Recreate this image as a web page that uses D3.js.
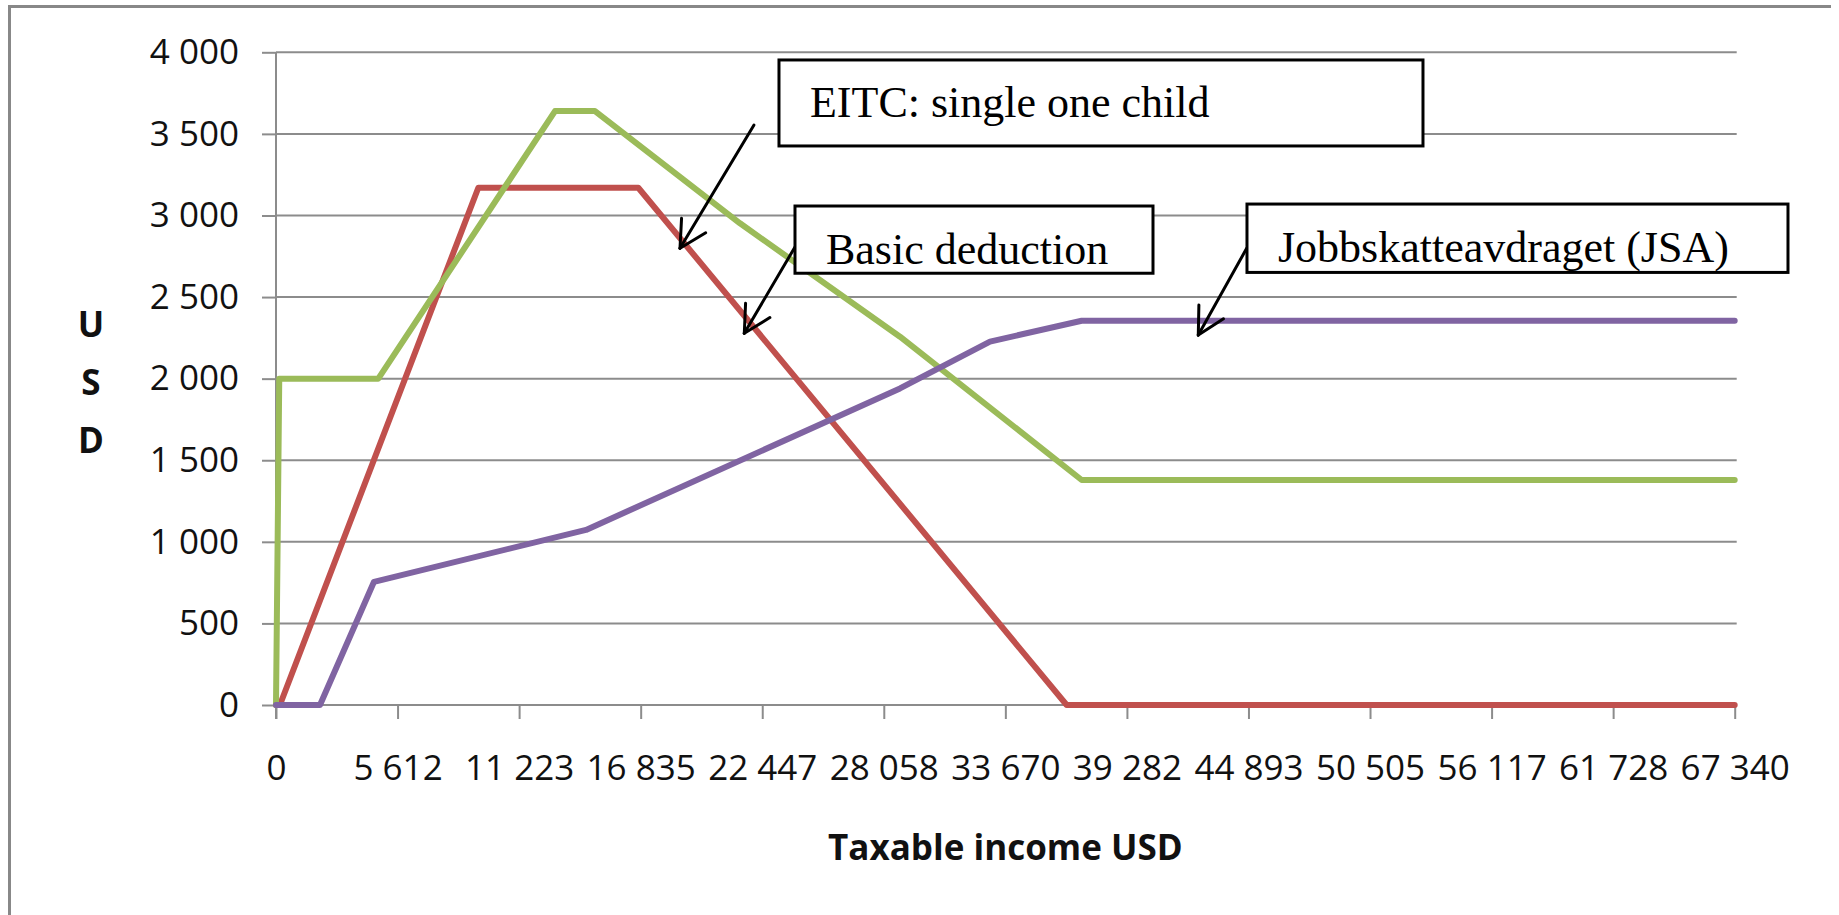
<!DOCTYPE html>
<html>
<head>
<meta charset="utf-8">
<script src="https://cdn.jsdelivr.net/npm/d3@7"></script>
<style>
  html, body { margin: 0; padding: 0; background: #ffffff; }
  svg { display: block; }
</style>
</head>
<body>
<svg id="chart" width="1839" height="915"></svg>
<script>
// ---------------- DATA ----------------
const xTickValues = [0, 5612, 11223, 16835, 22447, 28058, 33670, 39282, 44893, 50505, 56117, 61728, 67340];
const xTickLabels = ["0", "5 612", "11 223", "16 835", "22 447", "28 058", "33 670", "39 282", "44 893", "50 505", "56 117", "61 728", "67 340"];
const yTickValues = [0, 500, 1000, 1500, 2000, 2500, 3000, 3500, 4000];
const yTickLabels = ["0", "500", "1 000", "1 500", "2 000", "2 500", "3 000", "3 500", "4 000"];

// EITC: single one child (red)
const eitcIncome = [0, 180, 9340, 16725, 36500, 67340];
const eitcUSD    = [0, 0, 3170, 3170, 0, 0];

// Basic deduction (green)
const basicIncome = [0, 150, 4723, 12880, 14726, 21420, 28806, 37194, 67340];
const basicUSD    = [0, 2000, 2000, 3640, 3640, 2952, 2257, 1379, 1379];

// Jobbskatteavdraget (JSA) (purple)
const jsaIncome = [0, 2031, 4524, 14311, 28806, 32961, 37194, 67340];
const jsaUSD    = [0, 0, 755, 1073, 1940, 2227, 2355, 2355];

// Annotation texts
const noteTexts = ["EITC: single one child", "Basic deduction", "Jobbskatteavdraget (JSA)"];

// ---------------- LAYOUT ----------------
const svg = d3.select("#chart");
const plot = { left: 276, right: 1734.7, top: 52.3, bottom: 705 };
const x = d3.scaleLinear().domain([0, 67340]).range([plot.left, plot.right]);
const y = d3.scaleLinear().domain([0, 4000]).range([plot.bottom, plot.top]);

const sansFont = "'Open Sans', 'Liberation Sans', sans-serif";
const serifFont = "'Liberation Serif', 'Times New Roman', serif";
const gridColor = "#8c8c8c";

// Outer frame (top and left edges visible)
svg.append("line")
  .attr("x1", 9.5).attr("x2", 1831).attr("y1", 6.5).attr("y2", 6.5)
  .attr("stroke", "#888888").attr("stroke-width", 3);
svg.append("line")
  .attr("x1", 9.5).attr("x2", 9.5).attr("y1", 5).attr("y2", 915)
  .attr("stroke", "#888888").attr("stroke-width", 3);

// Horizontal gridlines
svg.append("g").attr("class", "grid")
  .selectAll("line").data(yTickValues).join("line")
  .attr("x1", plot.left).attr("x2", plot.right + 2)
  .attr("y1", d => y(d)).attr("y2", d => y(d))
  .attr("stroke", gridColor).attr("stroke-width", 2);

// Y axis (ticks + labels)
const yAxis = d3.axisLeft(y)
  .tickValues(yTickValues)
  .tickFormat((d, i) => yTickLabels[i])
  .tickSize(14).tickSizeOuter(0).tickPadding(23);
const gy = svg.append("g").attr("transform", `translate(${plot.left},0)`).call(yAxis);
gy.select(".domain").remove();
gy.selectAll(".tick line").attr("stroke", gridColor).attr("stroke-width", 2);
gy.selectAll(".tick text")
  .attr("font-family", sansFont).attr("font-size", 35).attr("fill", "#111");

// X axis (ticks + labels)
const xAxis = d3.axisBottom(x)
  .tickValues(xTickValues)
  .tickFormat((d, i) => xTickLabels[i])
  .tickSize(14).tickSizeOuter(0).tickPadding(36);
const gx = svg.append("g").attr("transform", `translate(0,${plot.bottom})`).call(xAxis);
gx.select(".domain").remove();
gx.selectAll(".tick line").attr("stroke", gridColor).attr("stroke-width", 2);
gx.selectAll(".tick text")
  .attr("font-family", sansFont).attr("font-size", 35).attr("fill", "#111");

// Vertical axis line
svg.append("line")
  .attr("x1", plot.left).attr("x2", plot.left)
  .attr("y1", plot.top).attr("y2", plot.bottom + 14)
  .attr("stroke", gridColor).attr("stroke-width", 2);

// Axis titles
svg.append("text")
  .attr("x", (plot.left + plot.right) / 2).attr("y", 860)
  .attr("text-anchor", "middle")
  .attr("font-family", sansFont).attr("font-size", 35).attr("font-weight", "bold")
  .attr("fill", "#111")
  .text("Taxable income USD");

const yTitle = ["U", "S", "D"];
svg.append("g").selectAll("text").data(yTitle).join("text")
  .attr("x", 91).attr("y", (d, i) => 336.7 + i * 58.3)
  .attr("text-anchor", "middle")
  .attr("font-family", sansFont).attr("font-size", 35).attr("font-weight", "bold")
  .attr("fill", "#111")
  .text(d => d);

// ---------------- SERIES ----------------
const line = d3.line().x(d => x(d[0])).y(d => y(d[1]));
const series = [
  { inc: eitcIncome, val: eitcUSD, color: "#C0504D" },
  { inc: basicIncome, val: basicUSD, color: "#9BBB59" },
  { inc: jsaIncome, val: jsaUSD, color: "#8064A2" }
];
svg.append("g").selectAll("path").data(series).join("path")
  .attr("d", s => line(d3.zip(s.inc, s.val)))
  .attr("fill", "none")
  .attr("stroke", s => s.color)
  .attr("stroke-width", 6)
  .attr("stroke-linejoin", "round")
  .attr("stroke-linecap", "round");

// ---------------- ANNOTATIONS ----------------
// arrows: tail and tip in data units (income, USD)
const arrows = [
  { tail: [22066, 3554], tip: [18650, 2799] },
  { tail: [23959, 2807], tip: [21619, 2278] },
  { tail: [44811, 2799], tip: [42577, 2267] }
];
const ag = svg.append("g").attr("stroke", "#000").attr("stroke-width", 3)
  .attr("stroke-linecap", "round").attr("fill", "none");
arrows.forEach(a => {
  const tx = x(a.tail[0]), ty = y(a.tail[1]);
  const px = x(a.tip[0]), py = y(a.tip[1]);
  ag.append("line").attr("x1", tx).attr("y1", ty).attr("x2", px).attr("y2", py);
  const th = Math.atan2(ty - py, tx - px);
  const L = 30, A = 28 * Math.PI / 180;
  [th - A, th + A].forEach(t => {
    ag.append("line").attr("x1", px).attr("y1", py)
      .attr("x2", px + L * Math.cos(t)).attr("y2", py + L * Math.sin(t));
  });
});

// text boxes: corners in data units (income, USD)
const boxes = [
  { x0: 23220, x1: 52950, y0: 3953, y1: 3426 },
  { x0: 23959, x1: 40486, y0: 3058, y1: 2646 },
  { x0: 44825, x1: 69800, y0: 3070, y1: 2651 }
];
const bg = svg.append("g");
boxes.forEach((b, i) => {
  const bx = x(b.x0), by = y(b.y0), bw = x(b.x1) - x(b.x0), bh = y(b.y1) - y(b.y0);
  bg.append("rect")
    .attr("x", bx).attr("y", by).attr("width", bw).attr("height", bh)
    .attr("fill", "#fff").attr("stroke", "#000").attr("stroke-width", 3);
  bg.append("text")
    .attr("x", bx + 31).attr("y", by + 57.5)
    .attr("font-family", serifFont).attr("font-size", 44).attr("fill", "#000")
    .text(noteTexts[i]);
});
</script>
</body>
</html>
